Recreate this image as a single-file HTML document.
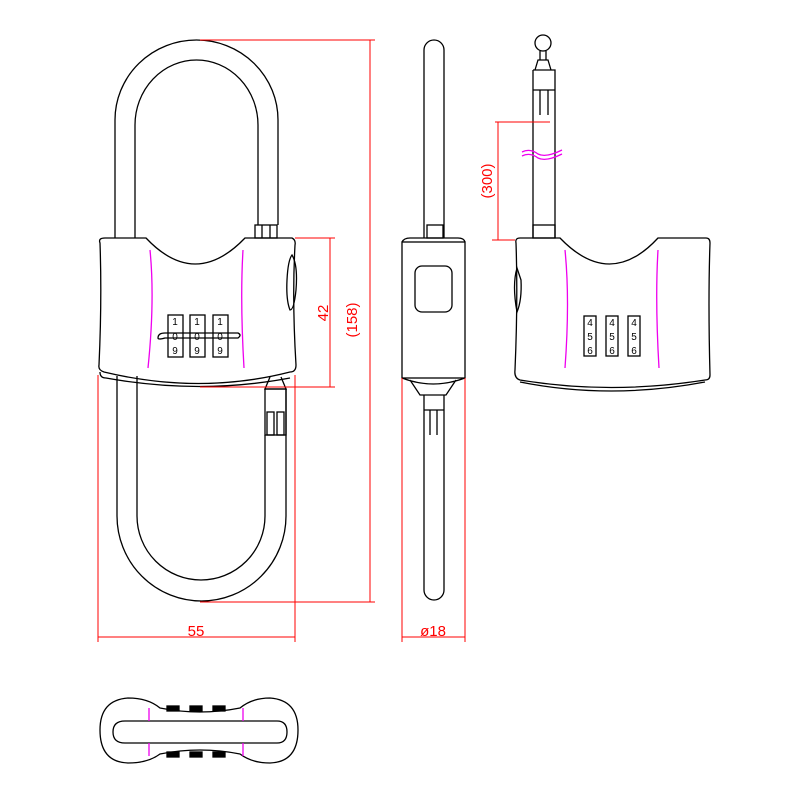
<!DOCTYPE html>
<html><head><style>body{margin:0;background:#fff}svg{display:block}</style></head><body>
<svg width="800" height="800" viewBox="0 0 800 800" xmlns="http://www.w3.org/2000/svg" font-family="Liberation Sans, sans-serif">
<rect width="800" height="800" fill="#fff"/>
<g fill="none" stroke="#000" stroke-width="1.3">
<!-- front view shackle top -->
<path d="M115 238 V120 A81.5 80 0 0 1 278 120 V225"/>
<path d="M135 238 V125 A61.5 65 0 0 1 258 125 V225"/>
<rect x="255" y="225" width="22" height="13"/>
<line x1="262" y1="225" x2="262" y2="238"/><line x1="270" y1="225" x2="270" y2="238"/>
<!-- front body -->
<path d="M100 243 Q98 238 105 238 L146 238 Q195 290 245 238 L292 238 Q296 240 295 245 Q292 300 296 365 Q296 372 290 372 Q200 395 104 372 Q98 370 99 365 Q102 300 100 243 Z"/>
<path d="M100 372 Q100 378 106 378 Q200 395 290 378"/>
<path d="M292 255 Q298 265 296 290 Q294 310 290 310 Q286 300 287 280 Q288 260 292 255 Z"/>
<path d="M150 250 Q155 300 148 368" stroke="#e0e"/>
<path d="M243 250 Q240 300 244 368" stroke="#e0e"/>
<rect x="168" y="315" width="15" height="42"/><rect x="190" y="315" width="15" height="42"/><rect x="213" y="315" width="15" height="42"/>
<path d="M158 338 Q158 333 165 333 H238 Q242 335 238 338 H165 Q158 340 158 338"/>
<!-- front shackle bottom -->
<path d="M117 376 V516 A84.5 85 0 0 0 286 516 V389"/>
<path d="M137 376 V516 A64 64 0 0 0 265 516 V435"/>
<path d="M270 377 L265 389 H286 L281 377"/>
<rect x="265" y="389" width="21" height="46"/>
<rect x="267" y="412" width="7" height="23"/><rect x="277" y="412" width="7" height="23"/>
<!-- side view -->
<path d="M424 238 V50 A10 10 0 0 1 444 50 V238"/>
<rect x="427" y="225" width="16" height="13"/>
<rect x="402" y="242" width="63" height="136"/>
<path d="M402 242 Q404 238 410 238 H458 Q464 238 465 242"/>
<rect x="415" y="266" width="37" height="46" rx="7"/>
<path d="M402 378 Q433 390 465 378 M410 380 L420 395 L446 395 L456 380"/>
<path d="M424 395 V590 A10 10 0 0 0 444 590 V395"/>
<line x1="424" y1="410" x2="444" y2="410"/><line x1="430" y1="410" x2="430" y2="435"/><line x1="437" y1="410" x2="437" y2="435"/>
<!-- right view -->
<circle cx="543" cy="43" r="8"/>
<path d="M540 51 V60 M546 51 V60 M535 70 L538 60 H548 L551 70"/>
<path d="M533 70 H555 V238 M533 70 V238"/>
<line x1="540" y1="90" x2="540" y2="115"/><line x1="548" y1="90" x2="548" y2="115"/><line x1="533" y1="90" x2="555" y2="90"/>
<rect x="533" y="225" width="22" height="13"/>
<path d="M516 243 Q515 238 520 238 L560 238 Q610 290 658 238 L706 238 Q710 238 710 243 Q708 300 710 375 Q710 380 705 380 Q610 395 520 380 Q514 378 515 370 Q518 300 516 243 Z"/>
<path d="M520 382 Q610 400 705 382"/>
<path d="M517 268 Q512 285 517 312 Q522 300 521 280 Z"/>
<path d="M565 250 Q570 300 565 368" stroke="#e0e"/>
<path d="M658 250 Q655 300 659 368" stroke="#e0e"/>
<rect x="584" y="316" width="12" height="40"/><rect x="606" y="316" width="12" height="40"/><rect x="628" y="316" width="12" height="40"/>
<path d="M522 152 Q530 148 538 154 Q546 158 562 150" stroke="#e0e"/>
<path d="M522 156 Q530 152 538 158 Q546 162 562 154" stroke="#e0e"/>
<!-- bottom view -->
<path d="M128 698 Q148 698 160 708 Q200 716 240 708 Q252 698 270 698 Q298 700 298 730 Q298 762 270 763 Q252 763 240 754 Q200 746 160 754 Q148 763 128 763 Q100 762 100 730 Q100 700 128 698 Z"/>
<path d="M125 721 H277 Q287 721 287 732 Q287 743 277 743 H125 Q113 743 113 732 Q113 721 125 721 Z"/>
<rect x="167" y="706" width="12" height="5" fill="#000"/><rect x="190" y="706" width="12" height="5" fill="#000"/><rect x="213" y="706" width="12" height="5" fill="#000"/>
<rect x="167" y="752" width="12" height="5" fill="#000"/><rect x="190" y="752" width="12" height="5" fill="#000"/><rect x="213" y="752" width="12" height="5" fill="#000"/>
<path d="M149 708 V721 M243 708 V721 M149 743 V756 M243 743 V756" stroke="#e0e"/>
</g>
<g font-size="10" text-anchor="middle">
<text x="175" y="325">1</text><text x="197" y="325">1</text><text x="220" y="325">1</text>
<text x="175" y="340">0</text><text x="197" y="340">0</text><text x="220" y="340">0</text>
<text x="175" y="354">9</text><text x="197" y="354">9</text><text x="220" y="354">9</text>
<text x="590" y="326">4</text><text x="612" y="326">4</text><text x="634" y="326">4</text>
<text x="590" y="340">5</text><text x="612" y="340">5</text><text x="634" y="340">5</text>
<text x="590" y="354">6</text><text x="612" y="354">6</text><text x="634" y="354">6</text>
</g>
<g stroke="#f00" stroke-width="1" fill="none">
<path d="M200 40 H375 M370 40 V602 M200 602 H375"/>
<path d="M295 238 H335 M200 387 H335 M330 238 V387"/>
<path d="M98 375 V642 M295 375 V642 M98 637 H295"/>
<path d="M402 378 V642 M465 378 V642 M402 637 H465"/>
<path d="M495 122 H550 M492 240 H515 M498 122 V240"/>
</g>
<g fill="#f00" font-size="15" text-anchor="middle">
<text x="196" y="636">55</text>
<text x="433" y="636">ø18</text>
<text transform="translate(328,313) rotate(-90)">42</text>
<text transform="translate(357,320) rotate(-90)">(158)</text>
<text transform="translate(492,181) rotate(-90)">(300)</text>
</g>
</svg>
</body></html>
